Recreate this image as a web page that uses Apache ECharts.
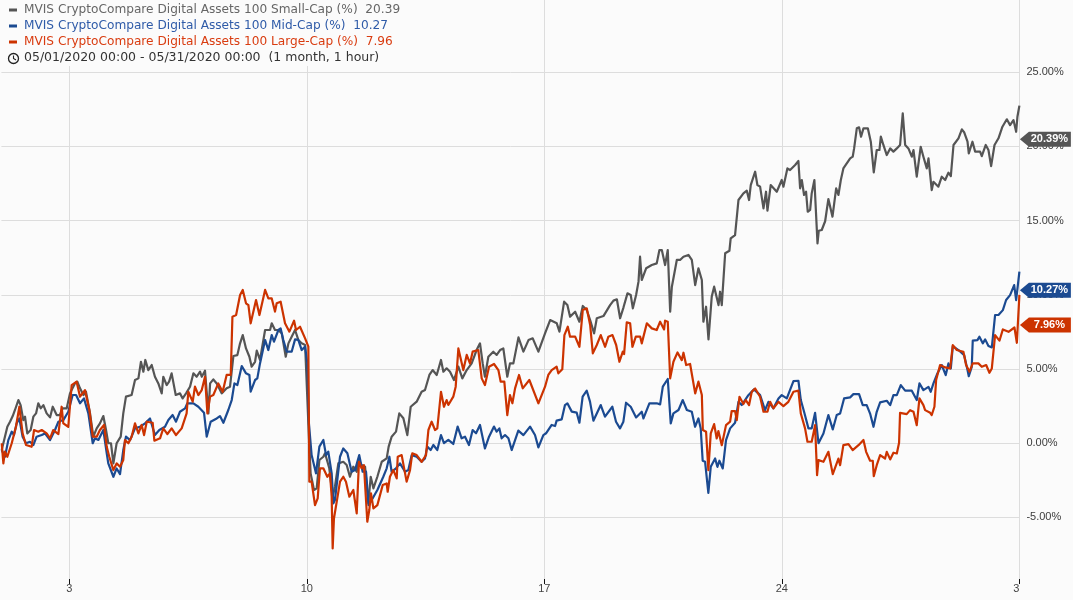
<!DOCTYPE html>
<html>
<head>
<meta charset="utf-8">
<title>MVIS CryptoCompare Digital Assets 100</title>
<style>
    html, body { margin: 0; padding: 0; background: #fbfbfb; }
    #chart { width: 1073px; height: 600px; }
</style>
<script src="https://cdn.jsdelivr.net/npm/echarts@6/dist/echarts.min.js"></script>
</head>
<body>
<div id="chart"></div>
<script>
// every point is [hours since 05/01 00:00, % change]
const smallCap = [[0.2,-0.46],[2.5,0.44],[4.2,1.11],[6.1,1.45],[8,1.83],[9.6,2.24],[12,2.91],[13.6,2.57],[15.5,1.56],[16.7,1.79],[18.3,0.66],[20.7,0.89],[22.6,1.79],[24.5,2.01],[26.1,2.69],[27.8,2.35],[29.7,2.57],[32,2.01],[34.4,1.74],[36.3,2.46],[39.1,1.9],[41.4,1.9],[43.3,2.35],[46.2,2.35],[48.5,3.36],[52,4.03],[53.7,4.15],[55.6,3.7],[58,3.25],[59.8,3.47],[62.7,2.01],[65,0.44],[67.4,1],[69.7,1.34],[72.1,1.83],[74,0.89],[75.6,0],[77.5,0],[79.2,-1.36],[81.5,0],[84.4,0.44],[86.2,2.01],[88.1,3.14],[92.1,3.25],[94.5,4.26],[96.9,4.37],[98.7,5.49],[100.4,4.82],[101.8,5.61],[103.9,4.93],[106.3,5.27],[108.6,4.48],[111,4.03],[113.4,3.36],[114.5,4.48],[116.9,3.92],[118.6,4.15],[120.4,4.71],[123.3,3.25],[126.3,3.36],[128.2,3.02],[130.6,3.36],[133.4,3.81],[135.8,4.71],[138.1,4.48],[140.5,4.82],[141.7,4.48],[144,4.89],[146.4,2.01],[147.6,4.03],[149.9,4.3],[152.3,4.03],[155.8,3.36],[159.3,3.7],[161.7,3.81],[164.1,5.88],[166.9,5.94],[168.8,6.73],[170.7,7.29],[173,6.39],[175.4,5.83],[177,5.16],[179.4,5.49],[180.6,6.24],[182.9,5.61],[186.5,7.63],[190,7.63],[191.2,8.08],[193.5,7.63],[195.9,7.63],[198.3,7.4],[201.1,5.83],[203,6.73],[205.3,7.18],[207.7,7.63],[210,6.96],[212.4,6.73],[214.8,6.62],[217.1,1.34],[218.7,-2.03],[221.1,-3.15],[223,-3.04],[224.9,-1.13],[227.7,-0.91],[228.9,-0.68],[231.9,-1.69],[234.3,-3.6],[235.9,-2.93],[238.3,-1.36],[241.8,-1.25],[244.2,-1.47],[246.5,-2.26],[248.9,-1.58],[251.3,-1.92],[252.4,-1.13],[254.8,-1.47],[257.2,-1.58],[259.5,-4.05],[261.2,-2.26],[263.1,-3.04],[265.9,-2.26],[269,-1.25],[272.5,-1.02],[273.9,-0.23],[276,0.44],[279.1,0.78],[281.4,2.01],[284.3,1.68],[287.1,0.55],[289.5,2.46],[293.7,2.8],[297.2,3.47],[299.6,3.59],[302.7,4.6],[305,4.93],[307.9,4.6],[310.9,5.61],[312.6,4.82],[314.9,5.05],[317.3,4.82],[320.1,4.26],[323.2,5.16],[326,4.37],[329.1,4.93],[332.6,5.38],[336.1,6.28],[338.5,6.73],[340.4,5.38],[342,4.48],[344.4,5.83],[347.9,6.17],[350.3,5.95],[352.7,6.28],[355,6.39],[357.8,4.48],[359.7,5.38],[362.1,5.38],[365.7,7.13],[369.2,6.17],[372.8,6.95],[375.8,7.07],[379.8,6.17],[384.5,7.4],[388.1,8.3],[392.8,8.08],[394.7,7.52],[398,9.54],[400.3,9.31],[402.2,8.53],[405.8,8.86],[408.8,8.19],[411.2,9.25],[414,8.98],[416.4,8.3],[419.2,7.4],[421.1,8.42],[425.8,8.57],[430.5,9.31],[432.9,9.61],[435.3,9.7],[437.6,8.42],[440,9.16],[442.8,10.1],[445.1,9.99],[446.6,9.09],[448.9,9.99],[450.6,10.89],[451.7,12.57],[452.9,11],[456,11.79],[460,12.01],[463.5,12.12],[465.4,13.02],[467.1,13.02],[469.4,12.01],[471.3,13.02],[473,8.86],[474.2,10.55],[477.7,12.35],[480,12.35],[482.4,12.57],[485.9,12.69],[488.3,12.35],[490.7,10.66],[493,11.79],[495.4,11],[496.5,8.19],[498.4,9.2],[500.1,7],[502.4,9.88],[504.1,10.55],[507.2,9.31],[508.3,10.21],[509.5,9.31],[511.9,12.8],[514.9,12.97],[515.8,13.8],[518.9,14.03],[521.3,16.39],[524.8,16.84],[527.2,17.02],[528.8,16.39],[530,17.4],[533.1,18.3],[534.7,17.4],[536.6,17.29],[539,15.83],[540.8,16.95],[541.8,15.67],[544.1,17.4],[548.4,16.95],[551.9,17.74],[553.1,17.29],[555.9,18.52],[557.8,18.41],[561.4,18.75],[563.7,19.02],[564.9,17.18],[566.1,17.74],[567.7,16.73],[569.1,16.95],[570.3,15.6],[572,15.72],[573.1,16.84],[575,17.74],[577.2,13.47],[578.1,14.32],[580.2,14.37],[582.6,14.96],[584.9,16.46],[587.8,15.27],[590.4,17.18],[592,16.73],[593.7,17.74],[595.5,18.52],[600.3,19.2],[602.1,19.31],[603.1,19.87],[605,21.22],[606.6,21.29],[608,20.66],[609.7,21.22],[612.8,21.22],[614.9,20.32],[616.3,20.21],[617,18.25],[619.1,19.76],[621,19.76],[622,20.66],[623.8,20.1],[626.2,19.42],[628.6,19.87],[630.9,19.65],[633.3,19.87],[635.6,20.1],[637.5,22.23],[639.2,20.1],[641.5,19.87],[643.9,19.31],[645.1,19.76],[647.4,17.96],[650.2,19.98],[652.1,19.31],[654.5,18.52],[655.7,19.2],[658,17.06],[659.2,17.62],[662.7,17.29],[665.1,17.96],[667.5,17.74],[669.8,18.23],[671.5,18],[673.4,20.1],[676.9,20.55],[679.3,21.15],[680.9,20.96],[683.3,20.32],[684.2,19.53],[686.8,20.32],[688.7,19.65],[692.2,19.65],[693.4,19.35],[696.2,20.1],[698.1,19.76],[700,18.68],[702.4,20.1],[705.2,20.55],[708,21.33],[711.1,21.83],[713.4,21.44],[715.8,21.78],[717.7,20.99],[718.6,22],[720,22.75]];

const midCap = [[0.2,-0.46],[2.5,-0.91],[4.9,0.21],[7.3,0.78],[8.9,0.55],[10.8,1.34],[12.7,1.67],[15,0.44],[17.4,0],[20.2,0.1],[22.6,-0.12],[24.9,0.44],[28.5,0.55],[30.8,0.66],[34.4,0.21],[37.9,0.89],[40.3,1.45],[43.8,1.56],[47.3,2.12],[50.4,3.25],[52.8,3.25],[55.6,2.69],[58.4,3.02],[61.5,2.01],[64.6,0],[66.2,0.33],[68.6,0.22],[72.1,0.89],[74.5,-0.68],[75.6,-1.36],[79.2,-2.26],[81.5,-1.7],[83.9,-2.08],[86.2,-0.46],[88.1,0.44],[91,0.21],[94.5,1],[98,1.11],[101.6,1.34],[105.1,1.67],[108.6,0.55],[111.7,0.89],[115.7,1.11],[118.1,1.56],[121.1,1.9],[123.5,1.45],[126.3,2.12],[129.9,2.35],[131.5,2.69],[135.8,2.69],[139.3,2.46],[143.3,2.06],[145.2,0.44],[148,1.45],[152.3,1.67],[154.6,1.83],[157,1.38],[160.5,2.24],[162.9,2.91],[164.8,4.03],[166.9,3.92],[170,5.2],[173,4.71],[175.4,4.6],[176.3,3.47],[179.4,4.26],[181,4.37],[182.9,5.38],[186.5,6.96],[188.8,6.28],[191.2,7.29],[192.8,6.84],[195.9,7.63],[197.5,7.74],[199.4,6.96],[201.8,6.17],[205.3,6.17],[207.7,7],[210,6.96],[212.4,6.28],[214.8,6.51],[216.4,5.38],[217.5,1.34],[219.4,-0.8],[222.5,-2.03],[224.9,-0.23],[227.7,0.22],[229.6,-0.8],[231.2,-0.57],[233.6,-2.03],[234.8,-4.05],[235.9,-3.83],[239.5,-0.91],[241.8,-0.35],[244.7,-0.68],[247.7,-1.92],[250.1,-1.81],[253.1,-0.8],[255.5,-1.92],[257.9,-1.92],[259.7,-4.17],[261.9,-3.83],[265.9,-3.15],[270.1,-2.26],[272.5,-1.69],[274.4,-0.91],[276,-1.92],[279.1,-1.69],[281.9,-1.36],[285.5,-1.92],[287.8,-1.81],[290.2,-0.8],[293.7,-0.91],[297.2,-1.25],[299.6,-1.02],[301.2,-0.23],[303.6,-0.46],[305.5,-0.12],[308.3,-0.46],[310.9,0.55],[313,0],[316.1,0.22],[319.6,-0.05],[322.7,1.12],[325.5,0.33],[327.9,0.44],[330.7,-0.12],[333.3,0.89],[335.7,0.67],[338.5,1.23],[342,-0.35],[344.9,0.44],[348.4,1.12],[350.3,0.78],[352.2,1],[353.8,0.33],[356.2,0.55],[358.6,0.33],[360.9,-0.46],[365.6,0.85],[369.2,0.55],[373.9,1.12],[377.4,0.55],[379.8,-0.28],[383.3,0.55],[385.2,0.67],[389.2,1.23],[391.6,1.16],[392.7,1.52],[396.3,1.61],[398.6,2.57],[400.3,2.69],[403.4,2.13],[406.9,2.06],[408.8,1.38],[411.1,3.14],[414,3.54],[416.3,2.8],[418.7,1.52],[423.9,2.57],[426.9,1.79],[432.1,2.46],[434.7,1.45],[437.5,1],[439.9,1.45],[441.8,2.73],[445.1,2.46],[448.9,1.74],[452.9,2.12],[454.1,1.67],[458.3,2.69],[463.5,2.69],[465.9,2.62],[467.8,3.81],[471.3,4.33],[473.4,1.34],[475.3,2.01],[478.9,2.24],[481.9,2.91],[484.8,2.24],[488.3,2.12],[490.6,1.11],[493,1.67],[494.6,1],[496,-1.18],[497.7,-1.25],[500,-3.34],[501.7,-1.59],[504.8,-1.03],[506.4,-1.59],[507.8,-1.18],[510.2,-1.7],[512.5,0.21],[515.4,1],[518.9,1.38],[521.3,2.79],[523.6,2.57],[528.3,3.24],[532.3,3.63],[536.6,3.24],[540.1,2.23],[542.5,2.79],[546,2.35],[549.6,3.02],[551.9,3.24],[555.5,3.02],[560.2,4.19],[563.7,4.21],[565.4,2.91],[567.7,2.12],[570.8,1],[573.1,1],[575.5,2.05],[577.9,0],[581.4,0.66],[584.9,1.9],[588,0.93],[590.8,1.9],[593.2,2],[596,3.02],[600.3,3.09],[602.6,3.31],[606.6,3.31],[609.2,2.57],[612,2.57],[614.4,2],[616.8,1.11],[619.1,2.12],[621.5,2.75],[626.2,2.86],[628.6,2.57],[630.9,3.24],[633.3,3.24],[636.1,3.92],[639.2,3.54],[643.9,3.54],[647.4,2.91],[649.3,4.03],[652.1,3.58],[655.7,3.8],[657.3,3.47],[659.2,4.03],[662,4.7],[665.1,5.27],[667.9,4.59],[669.8,5.38],[671.5,5.04],[672.9,6.55],[676.9,6.28],[680.9,5.94],[683.3,4.93],[684.2,4.52],[686.3,5.15],[687,6.91],[690.3,6.95],[691.7,7.18],[694.1,6.73],[695.8,7],[698.1,6.55],[700.5,6.46],[702.8,8.64],[705.2,8.64],[708.3,8.97],[710.6,9.65],[713.4,9.98],[716.3,10.66],[717.7,9.65],[720,11.56]];

const largeCap = [[0.2,0],[1.4,-1.36],[2.5,-0.57],[4.2,-0.91],[7.3,0],[10.3,1.11],[12.7,2.46],[15,0.66],[17.4,-0.12],[21.4,-0.24],[23.1,0.89],[26.1,0.78],[28.5,0.89],[32,0.66],[34.4,0.33],[36.7,0.89],[40.3,0.62],[42.6,2.46],[43.8,1.34],[47.3,1.11],[49.7,3.92],[53.2,4.15],[55.6,3.14],[59.1,3.58],[62.2,2.24],[64.6,0.44],[67.4,0.44],[69.7,0.89],[72.6,1.23],[74.5,-0.24],[76.3,-0.91],[79.2,-1.81],[81.5,-1.36],[83.9,-1.58],[86.2,-1.13],[87.4,0.21],[89.8,0],[92.1,0.44],[94.5,1.34],[96.9,0.66],[99.2,1.23],[100.9,0.55],[102.8,1.45],[107,1.38],[108.2,0.17],[112.2,0.33],[114.5,1],[117.4,0.62],[120.4,1],[123.5,0.55],[127.5,1],[131,2.01],[132.2,3.47],[135.3,2.8],[136.9,3.81],[139.3,3.25],[141.7,3.58],[144,4.48],[145.7,2.01],[147.6,3.14],[149.9,3.25],[153.4,4.03],[156.5,3.47],[159.3,4.6],[162.2,4.6],[163.4,8.53],[166,8.64],[168.8,9.99],[170.7,10.33],[173,9.43],[174.7,9.31],[176.3,8.08],[180.1,9.65],[182.5,8.64],[186.5,10.33],[188.8,9.76],[191.2,9.76],[193.5,8.87],[194.7,9.43],[197.5,9.54],[200.6,8.08],[203.7,7.52],[207,8.26],[208.4,7.63],[211.2,7.85],[214.8,7.07],[217.1,6.51],[217.8,-2.59],[219.4,-2.59],[221.8,-4.17],[223.7,-3.72],[225.3,-1.69],[227.7,-1.69],[230.5,-2.26],[232.4,-2.03],[233.6,-3.6],[234.3,-7.09],[235.2,-5.07],[236.6,-5.18],[239.5,-2.59],[241.8,-2.26],[243.7,-2.59],[246.1,-3.6],[248.9,-3.15],[251.3,-4.73],[252.9,-1.25],[254.8,-1.69],[256.4,-1.47],[258.8,-5.29],[260.2,-4.5],[261.4,-3.38],[263.1,-4.39],[265.9,-4.17],[269.7,-2.82],[272.5,-2.71],[273.2,-3.27],[274.8,-2.26],[277.2,-1.81],[279.6,-2.37],[280.3,-0.91],[283.1,-0.8],[286.6,-2.59],[289,-1.81],[290.6,-0.68],[293.7,-0.8],[297.2,-1.25],[300.3,-0.8],[302,0.89],[304.3,1.45],[306.7,0.89],[308.3,1],[310.9,3.47],[313,2.46],[314.9,2.91],[316.1,2.58],[319.6,3.14],[321.3,3.81],[323.2,6.39],[326.7,4.93],[329.1,5.95],[331.4,5.38],[333.3,6.17],[337.3,6.28],[339.7,4.37],[342,3.92],[344.9,5.16],[348.4,5.34],[351.5,4.93],[353.1,4.15],[355.7,4.15],[357.8,1.9],[359.7,3.25],[361.4,2.69],[363.3,3.7],[366.1,4.6],[368.7,3.7],[373.4,4.26],[379.8,2.69],[384.5,3.81],[386.8,4.6],[389.2,4.93],[392.7,5.16],[393.9,4.71],[396.7,4.98],[398.2,7.29],[400.6,7.85],[402.2,7.18],[405.8,7.18],[408.8,6.5],[411.2,8.98],[414,9.09],[416.4,7.97],[418.3,6.06],[421.1,6.62],[423.9,7.29],[427,6.5],[429.3,7.18],[432.2,7.29],[434.8,6.62],[437.1,5.49],[439.5,6.17],[440.4,6.01],[442.3,8.15],[444.7,8.08],[446.3,6.5],[448.7,7.18],[451.8,7.18],[452.9,6.73],[456.5,8.08],[460,7.74],[463.5,7.63],[465.9,8.19],[468.7,7.67],[469.4,8.26],[471.3,8.19],[473,4.37],[475.3,5.49],[478.2,6.12],[481.2,5.6],[482.4,6.1],[484.3,5.27],[487.1,5.34],[490.7,3.36],[493,4.15],[495.4,3.25],[496.1,0.89],[498.4,0.77],[500,-1.81],[501.7,0.66],[504.1,1.29],[505.9,0.32],[507.1,0.82],[509.5,-0.13],[512.5,1.22],[515.4,1.45],[516.5,2.17],[518.9,2.17],[520.1,1.56],[522,3.13],[524.8,2.64],[526.5,2.91],[528.8,2.57],[530.7,3.47],[533.1,3.69],[536.6,3.13],[539,2.12],[541.8,2.12],[543.7,2.79],[546,2.35],[549.6,2.79],[553.1,2.5],[556.6,2.79],[560.2,3.47],[563.7,3.54],[565.4,2],[568.4,1],[570.1,0.1],[573.1,0.1],[575.5,1.22],[576.9,-2.15],[577.9,-1.14],[581.4,-1.25],[584.9,-0.58],[588,-2.08],[592,-1.03],[593.2,-1.48],[595.5,-0.13],[599.1,-0.06],[602.1,-0.46],[606.2,-0.13],[609.7,0.22],[611.6,-0.58],[614.4,-1.18],[616.3,-1.18],[617,-2.22],[619.1,-1.48],[621.5,-0.8],[625,-1.03],[626.2,-0.58],[628.6,-1.09],[630.9,-0.64],[633.3,-0.69],[634.9,0.03],[635.6,2.05],[640.3,1.96],[642.7,2.23],[645.1,2.12],[647.4,1.22],[649.3,3.02],[652.1,2.57],[653.3,2.23],[656.9,2.05],[658,1.9],[659.9,2.46],[661.1,4.26],[663.9,5.27],[667.5,5.11],[671,5.04],[672.9,6.61],[675.7,6.28],[680.4,6.16],[682.3,5.27],[684.7,4.82],[687,5.38],[691,5.38],[693.4,5.15],[696.5,5.27],[698.8,4.75],[700.5,5.04],[702.8,7.29],[705.9,6.91],[708.3,7.67],[712.3,7.51],[716.5,7.8],[718.2,6.77],[720,10]];

const seriesNames = [
    "MVIS CryptoCompare Digital Assets 100 Small-Cap (%)",
    "MVIS CryptoCompare Digital Assets 100 Mid-Cap (%)",
    "MVIS CryptoCompare Digital Assets 100 Large-Cap (%)"
];
const lastValues = [20.39, 10.27, 7.96];
const lineColors = ["#555555", "#1b4a91", "#cc3300"];
const legendColors = ["#666666", "#2f5ba8", "#d93c10"];

const yTicks = [-5, 0, 5, 10, 15, 20, 25];
const xTicks = [48, 216, 384, 552, 720];
const xTickLabels = ["3", "10", "17", "24", "3"];
const rangeText = "05/01/2020 00:00 - 05/31/2020 00:00  (1 month, 1 hour)";

const uiFont = "DejaVu Sans";
const axisFont = "Liberation Sans";
const tagPath = "path://M0,8 L9,0 L51,0 L51,16 L9,16 Z";

function lineSeries(i, points, tagShift) {
    return {
        name: seriesNames[i],
        type: "line",
        data: points,
        showSymbol: false,
        smooth: false,
        lineStyle: { color: lineColors[i], width: 2.2, join: "round" },
        itemStyle: { color: lineColors[i] },
        emphasis: { disabled: true },
        z: 2 + i,
        markPoint: {
            symbol: tagPath,
            symbolSize: [51, 15],
            symbolOffset: [26, tagShift],
            silent: true,
            itemStyle: { color: lineColors[i] },
            label: {
                show: true,
                position: "inside",
                offset: [4, 0],
                color: "#fff",
                fontFamily: axisFont,
                fontSize: 11,
                fontWeight: "bold",
                formatter: lastValues[i].toFixed(2) + "%"
            },
            data: [{ coord: [720, lastValues[i]] }]
        }
    };
}

const chart = echarts.init(document.getElementById("chart"));
window.addEventListener("resize", () => chart.resize());

chart.setOption({
    animation: false,
    backgroundColor: "#fbfbfb",
    grid: { left: 1.4, top: 0, width: 1018, height: 579 },
    legend: {
        left: 9,
        top: 3,
        orient: "vertical",
        padding: 0,
        itemGap: 2,
        itemWidth: 8,
        itemHeight: 3,
        icon: "rect",
        selectedMode: false,
        formatter: name => name + "  " + lastValues[seriesNames.indexOf(name)].toFixed(2),
        data: seriesNames.map((name, i) => ({
            name: name,
            itemStyle: { color: lineColors[i] },
            textStyle: { color: legendColors[i], fontFamily: uiFont, fontSize: 12.15, padding: [0, 0, 0, 2], lineHeight: 14 }
        }))
    },
    xAxis: {
        type: "value",
        min: 0,
        max: 720,
        axisLine: { show: false, onZero: false },
        axisTick: { customValues: xTicks, length: 5, lineStyle: { color: "#111" } },
        splitLine: { show: true, lineStyle: { color: "#dddddd", width: 1 } },
        axisLabel: {
            customValues: xTicks,
            formatter: v => xTickLabels[xTicks.indexOf(v)],
            color: "#444",
            fontFamily: axisFont,
            fontSize: 11,
            margin: 4,
            alignMaxLabel: "right"
        }
    },
    yAxis: {
        type: "value",
        position: "right",
        min: -9.15,
        max: 29.87,
        axisLine: { show: false },
        axisTick: { show: false, customValues: yTicks },
        splitLine: { show: true, lineStyle: { color: "#dddddd", width: 1 } },
        axisLabel: {
            customValues: yTicks,
            formatter: v => v.toFixed(2) + "%",
            color: "#3c3c3c",
            fontFamily: axisFont,
            fontSize: 11,
            margin: 7
        }
    },
    graphic: [
        // header box hides the gridlines behind the legend
        { type: "rect", left: 0, top: 0, z: 1, silent: true, shape: { width: 410, height: 66 }, style: { fill: "#fbfbfb" } },
        { type: "circle", left: 6, top: 51, z: 5, silent: true, shape: { r: 5 }, style: { fill: "none", stroke: "#222", lineWidth: 1.3 } },
        { type: "polyline", left: 11, top: 53, z: 5, silent: true, shape: { points: [[0, 0], [0, 3], [2.5, 4.5]] }, style: { fill: "none", stroke: "#222", lineWidth: 1.1 } },
        { type: "text", left: 24, top: 51, z: 5, silent: true, style: { text: rangeText, fill: "#333", font: "12.5px '" + uiFont + "'" } }
    ],
    series: [
        lineSeries(0, smallCap, -1.5),
        lineSeries(1, midCap, -0.5),
        lineSeries(2, largeCap, 0)
    ]
});
</script>
</body>
</html>
